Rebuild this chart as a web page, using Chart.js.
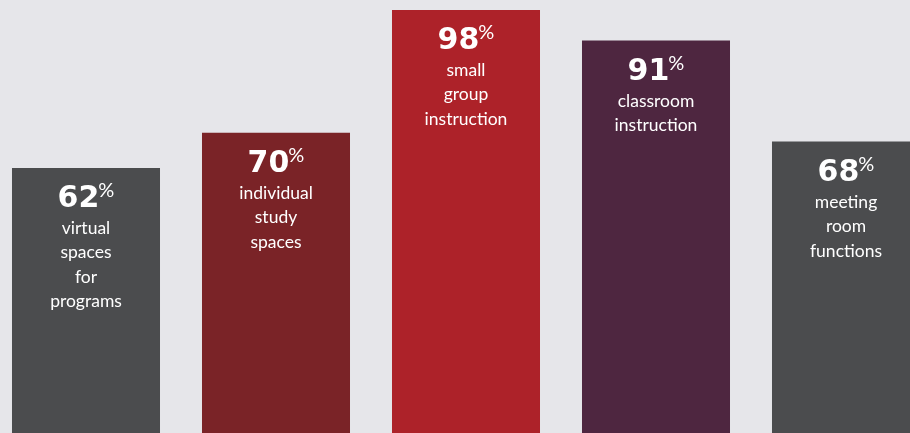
<!DOCTYPE html>
<html>
<head>
<meta charset="utf-8">
<script src="https://cdn.jsdelivr.net/npm/chart.js@4/dist/chart.umd.min.js"></script>
<style>
	html, body { margin: 0; padding: 0; background: #e6e6ea; overflow: hidden; }
	#wrap { position: absolute; left: -9px; top: 0; width: 950px; height: 433px; }
</style>
</head>
<body>
<div id="wrap"><canvas id="chart"></canvas></div>
<script>
// данные с картинки
const categories = ['virtual spaces for programs', 'individual study spaces', 'small group instruction', 'classroom instruction', 'meeting room functions']
const values = [62, 70, 98, 91, 68]
const labelLines = [
	['virtual', 'spaces', 'for', 'programs'],
	['individual', 'study', 'spaces'],
	['small', 'group', 'instruction'],
	['classroom', 'instruction'],
	['meeting', 'room', 'functions']
]
const barColors = ['#4b4c4e', '#7a2327', '#ad2229', '#4e2640', '#4b4c4e']

// подписи внутри столбцов
const insideLabels = {
	id: 'insideLabels',
	afterDatasetsDraw(chart) {
		const ctx = chart.ctx
		const meta = chart.getDatasetMeta(0)
		ctx.save()
		ctx.fillStyle = '#ffffff'
		ctx.textBaseline = 'alphabetic'
		meta.data.forEach((bar, i) => {
			const x = bar.x
			const top = bar.y
			// число + маленький знак %
			const numFont = 'bold 30px "DejaVu Sans"'
			const pctFont = '20px Lato'
			const gap = -1
			ctx.font = numFont
			const num = String(values[i])
			const numW = ctx.measureText(num).width
			ctx.font = pctFont
			const pctW = ctx.measureText('%').width
			const start = x - (numW + pctW + gap) / 2
			ctx.textAlign = 'left'
			ctx.font = numFont
			ctx.fillText(num, start, top + 39)
			ctx.font = pctFont
			ctx.fillText('%', start + numW + gap, top + 29)
			// текст категории
			ctx.textAlign = 'center'
			ctx.font = '17.5px Lato'
			labelLines[i].forEach((line, j) => {
				ctx.fillText(line, x, top + 66 + j * 24.5)
			})
		})
		ctx.restore()
	}
}

new Chart(document.getElementById('chart'), {
	type: 'bar',
	data: {
		labels: categories,
		datasets: [{
			data: values,
			backgroundColor: barColors,
			borderWidth: 0,
			barPercentage: 0.779,
			categoryPercentage: 1
		}]
	},
	options: {
		responsive: true,
		maintainAspectRatio: false,
		animation: false,
		layout: { padding: 0 },
		plugins: {
			legend: { display: false },
			tooltip: { enabled: false }
		},
		scales: {
			x: { display: false },
			y: { display: false, min: 1.6, max: 100.25 }
		}
	},
	plugins: [insideLabels]
})
</script>
</body>
</html>
